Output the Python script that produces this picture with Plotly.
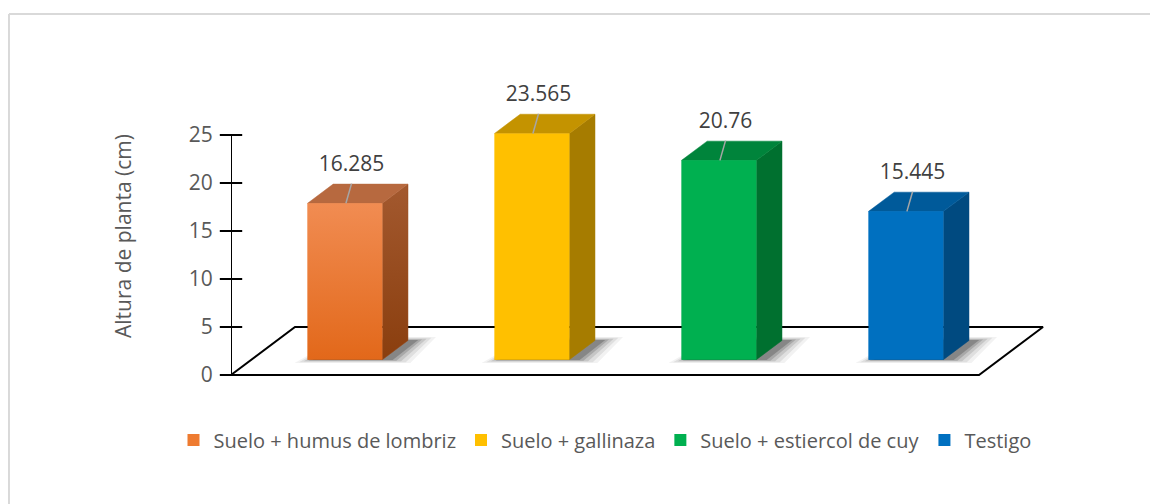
import plotly.graph_objects as go

# ---------------- data ----------------
categories = ["Suelo + humus de lombriz", "Suelo + gallinaza",
              "Suelo + estiercol de cuy", "Testigo"]
values = [16.285, 23.565, 20.76, 15.445]
value_labels = ["16.285", "23.565", "20.76", "15.445"]
y_ticks = [0, 5, 10, 15, 20, 25]
y_tick_labels = ["0", "5", "10", "15", "20", "25"]
y_title = "Altura de planta (cm)"

# ---------------- style ----------------
front_colors = ["#EE7B30", "#FFC000", "#00B050", "#0070C0"]
side_colors = ["#98491B", "#A67C00", "#00702F", "#004A80"]
top_colors = ["#B7693F", "#C49300", "#00843B", "#005A9A"]
orange_front_grad = [[0, "#E2681A"], [1, "#F18C52"]]
orange_side_grad = [[0, "#8A3E0E"], [1, "#A3592F"]]
FONT = "Open Sans"
TXT = "#595959"

W, H = 1158, 504
OFF = 8                      # page body margin
X0PX, XSTEP = 345 - OFF, 187  # px of category 0, px per category
Y0PX, YSTEP = 375 - OFF, 9.6  # px of value 0, px per unit

floor_dx, floor_dy = 64 / 187, 5.0   # floor depth vector (data units)
f0 = 0.32                             # depth fraction of bar front plane
bar_depth = 0.4                       # bar depth as fraction of floor depth
half_w = 0.2
n = len(categories)

x_axis = -0.5 - f0 * floor_dx
x_right = (n - 0.5) - f0 * floor_dx
base = f0 * floor_dy
bdx, bdy = bar_depth * floor_dx, bar_depth * floor_dy

L = X0PX + XSTEP * x_axis
R, T, B = W - 1, 60 - OFF, 390 - OFF
x_range = [x_axis, (R - X0PX) / XSTEP]
y_range = [(Y0PX - B) / YSTEP, (Y0PX - T) / YSTEP]


def px_x(p):
    return (p - OFF - L) / (R - L)


def px_y(p):
    return (B - (p - OFF)) / (B - T)


fig = go.Figure()

# real bars (front faces); legend entries
for i, (cat, v) in enumerate(zip(categories, values)):
    fig.add_trace(go.Bar(x=[i], y=[v], base=[base], width=2 * half_w,
                         marker=dict(color=front_colors[i], line=dict(width=0)),
                         name=cat, showlegend=True, hoverinfo="skip"))

# floor
fig.add_trace(go.Scatter(
    x=[x_axis, x_axis + floor_dx, x_right + floor_dx, x_right, x_axis],
    y=[0, floor_dy, floor_dy, 0, 0],
    mode="lines", line=dict(color="black", width=2),
    hoverinfo="skip", showlegend=False, cliponaxis=False))

# soft shadows (layered translucent footprints)
for i in range(n):
    for ex, ey, a in [(0.11, 1.2, 0.05), (0.085, 0.9, 0.08), (0.06, 0.6, 0.11),
                      (0.035, 0.35, 0.15), (0.015, 0.15, 0.2)]:
        sh = 0.04
        sx = [i - half_w - ex + sh, i + half_w + ex + sh,
              i + half_w + bdx + ex + sh, i - half_w + bdx + sh,
              i - half_w - ex + sh]
        sy = [base - ey * 0.3, base - ey * 0.3, base + bdy + ey * 0.3,
              base + bdy + ey * 0.3, base - ey * 0.3]
        fig.add_trace(go.Scatter(x=sx, y=sy, mode="lines", fill="toself",
                                 fillcolor=f"rgba(0,0,0,{a})", line=dict(width=0),
                                 hoverinfo="skip", showlegend=False))

# 3D faces
for i, v in enumerate(values):
    top = base + v
    # side face
    sx = [i + half_w, i + half_w + bdx, i + half_w + bdx, i + half_w, i + half_w]
    sy = [base, base + bdy, top + bdy, top, base]
    side_kw = dict(fillcolor=side_colors[i])
    if i == 0:
        side_kw = dict(fillgradient=dict(type="vertical", colorscale=orange_side_grad))
    fig.add_trace(go.Scatter(x=sx, y=sy, mode="lines", fill="toself",
                             line=dict(width=0.5, color=side_colors[i]),
                             hoverinfo="skip", showlegend=False, **side_kw))
    # top face
    tx = [i - half_w, i + half_w, i + half_w + bdx, i - half_w + bdx, i - half_w]
    ty = [top, top, top + bdy, top + bdy, top]
    fig.add_trace(go.Scatter(x=tx, y=ty, mode="lines", fill="toself",
                             fillcolor=top_colors[i],
                             line=dict(width=0.5, color=top_colors[i]),
                             hoverinfo="skip", showlegend=False))
    # front face
    fx = [i - half_w, i + half_w, i + half_w, i - half_w, i - half_w]
    fy = [base, base, top, top, base]
    front_kw = dict(fillcolor=front_colors[i])
    if i == 0:
        front_kw = dict(fillgradient=dict(type="vertical", colorscale=orange_front_grad))
    fig.add_trace(go.Scatter(x=fx, y=fy, mode="lines", fill="toself",
                             line=dict(width=0), hoverinfo="skip",
                             showlegend=False, **front_kw))

# leader lines + labels
for i, v in enumerate(values):
    top = base + v
    fig.add_trace(go.Scatter(x=[i + 0.005, i + 0.035], y=[top, top + 2.05],
                             mode="lines", line=dict(color="#A6A6A6", width=1.5),
                             hoverinfo="skip", showlegend=False))
fig.add_trace(go.Scatter(
    x=[i + 0.035 for i in range(n)],
    y=[base + v + 3.95 for v in values],
    text=value_labels, mode="text",
    textfont=dict(family=FONT, size=21, color="#404040"),
    hoverinfo="skip", showlegend=False, cliponaxis=False))

# value axis line and cross ticks
fig.add_trace(go.Scatter(x=[x_axis, x_axis], y=[y_ticks[0], y_ticks[-1]],
                         mode="lines", line=dict(color="black", width=2),
                         hoverinfo="skip", showlegend=False, cliponaxis=False))
fig.add_trace(go.Scatter(x=[x_axis] * len(y_ticks), y=y_ticks, mode="markers",
                         marker=dict(symbol="line-ew", size=16,
                                     line=dict(color="black", width=2)),
                         hoverinfo="skip", showlegend=False, cliponaxis=False))

fig.update_layout(
    width=W, height=H,
    margin=dict(l=L, r=W - R, t=T, b=H - B),
    paper_bgcolor="white", plot_bgcolor="white",
    barmode="overlay",
    font=dict(family=FONT, size=20, color=TXT),
    xaxis=dict(range=x_range, visible=False, fixedrange=True),
    yaxis=dict(range=y_range, tickvals=y_ticks, ticktext=y_tick_labels,
               ticks="outside", ticklen=13, tickcolor="rgba(0,0,0,0)",
               showgrid=False, zeroline=False, showline=False,
               tickfont=dict(family=FONT, size=21, color=TXT), fixedrange=True),
    legend=dict(orientation="h", xref="container", yref="container",
                x=(605 - OFF) / W, y=1 - (440 - OFF) / H,
                xanchor="center", yanchor="middle",
                font=dict(family=FONT, size=20, color=TXT),
                itemwidth=30, tracegroupgap=0, traceorder="normal"),
    annotations=[dict(text=y_title, textangle=-90, xref="paper", yref="paper",
                      x=px_x(123), y=px_y(236), xanchor="center",
                      yanchor="middle", showarrow=False,
                      font=dict(family=FONT, size=21, color=TXT))],
    shapes=[
        dict(type="line", xref="paper", yref="paper", x0=px_x(9), x1=px_x(W + 20),
             y0=px_y(14), y1=px_y(14), line=dict(color="#D9D9D9", width=2)),
        dict(type="line", xref="paper", yref="paper", x0=px_x(9), x1=px_x(9),
             y0=px_y(14), y1=px_y(H + 20), line=dict(color="#D9D9D9", width=2)),
    ],
)

fig.write_html("out.html")
